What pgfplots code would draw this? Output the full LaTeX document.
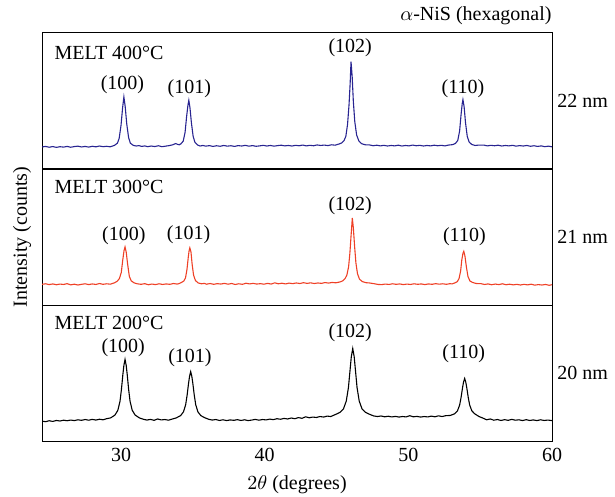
\documentclass[border=0pt]{standalone}
\usepackage{pgfplots}
\pgfplotsset{compat=1.18}
\usepackage{fontspec}
\setmainfont{Liberation Serif}
\definecolor{nisblue}{RGB}{40,36,145}
\definecolor{nisred}{RGB}{238,64,38}
\pgfplotsset{panel/.style={width=255pt,height=68pt,scale only axis,
  xmin=24.5,xmax=60,ymin=0,ymax=100,ytick=\empty,xtick={30,40,50,60},
  major tick length=0pt,axis line style={line width=0.5pt},
  /pgf/number format/assume math mode=true,
  every axis plot/.append style={line width=0.55pt,mark=none}}}
\begin{document}
\begin{tikzpicture}
\begin{axis}[panel,name=top,xticklabels={}]
\addplot[nisblue] coordinates {(24.50,16.2) (24.75,16.6) (25.00,16.0) (25.25,16.5) (25.50,15.9) (25.75,16.4) (26.00,16.1) (26.25,16.6) (26.50,16.0) (26.75,16.5) (27.00,16.8) (27.25,16.2) (27.50,16.6) (27.75,16.1) (28.00,16.7) (28.25,16.3) (28.50,16.9) (28.75,16.4) (29.00,16.7) (29.25,16.3) (29.55,17.4) (29.75,19.0) (29.87,22.5) (30.00,32) (30.11,45) (30.20,53) (30.29,46) (30.40,33) (30.53,23) (30.65,19.0) (30.85,17.4) (31.05,16.9) (31.25,17.2) (31.45,16.6) (31.65,17.0) (31.85,16.4) (32.10,16.9) (32.35,16.5) (32.60,17.1) (32.85,16.4) (33.10,16.8) (33.35,17.2) (33.60,17.8) (33.80,18.7) (33.95,18.1) (34.05,17.8) (34.17,18.5) (34.33,20.5) (34.46,27) (34.56,38) (34.66,47) (34.72,50.5) (34.80,45) (34.90,34) (35.02,24) (35.15,19.5) (35.34,17.6) (35.50,16.9) (35.70,17.3) (35.90,16.8) (36.15,17.2) (36.40,16.6) (36.65,17.1) (36.90,16.7) (37.15,17.3) (37.40,16.8) (37.65,17.1) (37.90,16.6) (38.15,17.2) (38.40,16.9) (38.65,17.4) (38.90,16.8) (39.15,17.2) (39.40,16.7) (39.65,17.0) (39.90,17.4) (40.15,16.9) (40.40,17.3) (40.65,16.8) (40.90,17.2) (41.15,17.5) (41.40,17.0) (41.65,17.3) (41.90,16.9) (42.15,17.4) (42.40,17.1) (42.65,17.6) (42.90,17.0) (43.15,17.4) (43.40,17.1) (43.65,17.7) (43.90,17.3) (44.15,17.6) (44.40,17.2) (44.65,17.8) (44.90,17.5) (45.18,18.4) (45.37,19.2) (45.52,20.8) (45.65,24) (45.77,33) (45.87,47) (45.95,63) (46.01,79) (46.09,68) (46.17,50) (46.27,35) (46.40,25) (46.56,20.5) (46.75,18.6) (47.00,17.8) (47.30,17.7) (47.55,17.1) (47.80,17.5) (48.05,17.0) (48.30,17.4) (48.55,16.9) (48.80,17.3) (49.05,17.0) (49.30,17.5) (49.55,16.9) (49.80,17.3) (50.05,17.0) (50.30,17.6) (50.55,17.1) (50.80,17.4) (51.05,16.9) (51.30,17.3) (51.55,17.0) (51.80,17.5) (52.05,17.1) (52.30,17.4) (52.55,17.0) (52.80,17.6) (53.08,17.9) (53.28,18.8) (53.44,21) (53.57,28) (53.67,40) (53.75,48) (53.80,51) (53.88,46) (53.98,34) (54.10,24) (54.23,19.8) (54.42,18.0) (54.65,17.3) (54.90,17.6) (55.25,17.6) (55.50,17.0) (55.75,17.4) (56.00,17.1) (56.25,17.5) (56.50,16.9) (56.75,17.3) (57.00,17.0) (57.25,17.4) (57.50,16.8) (57.75,17.2) (58.00,16.9) (58.25,17.3) (58.50,16.7) (58.75,17.1) (59.00,16.6) (59.25,17.0) (59.50,16.4) (59.75,16.8) (60.00,16.3)};
\node[anchor=west,inner sep=0] at (axis cs:25.35,85) {MELT 400°C};
\node at (axis cs:30.1,62) {(100)};
\node at (axis cs:34.75,59) {(101)};
\node at (axis cs:45.95,89) {(102)};
\node at (axis cs:53.8,59) {(110)};
\end{axis}
\begin{axis}[panel,name=middle,at={(top.south west)},anchor=north west,xticklabels={}]
\addplot[nisred] coordinates {(24.50,15.2) (24.75,15.6) (25.00,15.0) (25.25,15.5) (25.50,14.9) (25.75,15.4) (26.00,15.1) (26.25,15.7) (26.50,14.8) (26.75,15.3) (27.00,14.7) (27.25,15.2) (27.50,15.6) (27.75,15.0) (28.00,15.5) (28.25,15.1) (28.50,15.8) (28.75,15.2) (29.00,15.6) (29.25,15.3) (29.56,16.4) (29.74,17.5) (29.89,19.5) (30.02,24) (30.12,33) (30.21,40) (30.28,42.7) (30.36,39) (30.46,30) (30.58,21) (30.71,17.8) (30.89,16.4) (31.12,15.6) (31.40,15.2) (31.65,15.7) (31.90,14.9) (32.15,15.4) (32.40,15.0) (32.65,15.6) (32.90,15.1) (33.15,15.5) (33.40,15.2) (33.65,15.8) (33.90,15.4) (34.00,15.6) (34.18,16.4) (34.37,17.6) (34.49,20) (34.59,26) (34.68,35) (34.74,40) (34.79,42) (34.87,39) (34.95,30) (35.05,22) (35.18,18) (35.37,16.2) (35.60,15.6) (35.80,15.9) (35.95,15.3) (36.20,15.8) (36.45,15.2) (36.70,15.7) (36.95,15.4) (37.20,15.9) (37.45,15.3) (37.70,15.8) (37.95,15.1) (38.20,15.6) (38.45,15.2) (38.70,16.0) (38.95,15.5) (39.20,15.9) (39.45,15.4) (39.70,15.7) (39.95,15.3) (40.20,15.9) (40.45,15.4) (40.70,16.3) (40.95,15.6) (41.20,16.0) (41.45,15.5) (41.70,16.1) (41.95,15.7) (42.20,16.2) (42.45,15.8) (42.70,16.4) (42.95,15.9) (43.20,16.3) (43.45,15.8) (43.70,16.2) (43.95,15.9) (44.20,16.5) (44.45,16.1) (44.70,16.6) (44.95,16.3) (45.26,17.0) (45.44,17.8) (45.60,19.5) (45.72,22) (45.84,28) (45.93,38) (46.02,52) (46.10,64) (46.17,57) (46.26,43) (46.35,31) (46.46,23) (46.60,19) (46.80,17.2) (47.06,16.4) (47.30,16.2) (47.65,15.6) (47.90,15.1) (48.15,15.0) (48.40,15.4) (48.65,15.1) (48.90,15.6) (49.15,15.2) (49.40,15.5) (49.65,15.0) (49.90,15.4) (50.15,15.1) (50.40,15.6) (50.65,15.2) (50.90,15.5) (51.15,15.0) (51.40,15.5) (51.65,15.2) (51.90,15.7) (52.15,15.3) (52.40,15.6) (52.65,15.2) (52.90,15.7) (53.05,15.5) (53.22,16.2) (53.41,17.2) (53.53,19.5) (53.64,25) (53.72,33) (53.80,38) (53.86,39.5) (53.94,36) (54.04,28) (54.15,21) (54.29,17.6) (54.47,16.6) (54.72,15.8) (55.05,15.7) (55.30,15.1) (55.55,15.5) (55.80,14.9) (56.05,15.4) (56.30,15.0) (56.55,15.6) (56.80,14.9) (57.05,15.3) (57.30,14.8) (57.55,15.2) (57.80,14.7) (58.05,15.2) (58.30,14.8) (58.55,15.3) (58.80,14.6) (59.05,15.0) (59.30,14.7) (59.55,15.1) (59.80,14.5) (60.00,14.9)};
\node[anchor=west,inner sep=0] at (axis cs:25.35,87) {MELT 300°C};
\node at (axis cs:30.2,51) {(100)};
\node at (axis cs:34.7,52) {(101)};
\node at (axis cs:45.95,73) {(102)};
\node at (axis cs:53.9,50) {(110)};
\end{axis}
\begin{axis}[panel,name=bottom,at={(middle.south west)},anchor=north west,xlabel={$2\theta$ (degrees)}]
\addplot[black] coordinates {(24.50,14.6) (24.75,14.2) (25.00,14.9) (25.25,14.4) (25.50,15.1) (25.75,14.7) (26.00,15.3) (26.25,14.9) (26.50,15.4) (26.75,15.0) (27.00,15.6) (27.25,15.2) (27.50,15.8) (27.75,15.3) (28.00,15.9) (28.25,15.4) (28.50,16.0) (28.75,15.6) (29.00,16.4) (29.28,17.0) (29.58,19.1) (29.78,22.6) (29.93,29.2) (30.03,38) (30.13,49) (30.20,55.6) (30.28,60) (30.36,55.6) (30.43,49) (30.53,38) (30.63,29.2) (30.78,22.6) (30.98,19.1) (31.28,17.0) (31.55,16.0) (31.80,15.4) (32.05,15.9) (32.30,15.2) (32.55,16.2) (32.80,15.5) (33.05,15.8) (33.30,15.3) (33.55,16.1) (33.85,17.0) (34.15,18.7) (34.35,21.5) (34.50,26.7) (34.60,33.6) (34.70,42.3) (34.77,47.5) (34.85,51) (34.93,47.5) (35.00,42.3) (35.10,33.6) (35.20,26.7) (35.35,21.5) (35.55,18.7) (35.85,17.0) (36.10,16.0) (36.35,15.4) (36.60,15.8) (36.85,15.1) (37.10,15.6) (37.35,15.0) (37.60,15.5) (37.85,15.2) (38.10,15.7) (38.35,15.1) (38.60,15.6) (38.85,15.0) (39.10,15.4) (39.35,15.9) (39.60,15.3) (39.85,15.8) (40.10,15.5) (40.35,16.1) (40.60,15.7) (40.85,16.4) (41.10,16.0) (41.35,16.6) (41.60,16.2) (41.85,16.9) (42.10,16.4) (42.35,17.2) (42.60,16.7) (42.85,17.8) (43.10,17.1) (43.35,17.6) (43.60,17.3) (43.85,18.0) (44.10,17.6) (44.35,18.3) (44.60,18.0) (44.93,19.5) (45.23,21) (45.48,23.5) (45.68,29.4) (45.83,39.3) (45.93,50.7) (46.03,62) (46.13,68) (46.23,62) (46.33,50.7) (46.43,39.3) (46.58,29.4) (46.78,23.5) (47.03,21) (47.33,19.5) (47.60,18.4) (47.85,18.0) (48.10,18.4) (48.35,17.8) (48.60,18.2) (48.85,17.7) (49.10,18.1) (49.35,17.6) (49.60,18.0) (49.85,17.7) (50.10,18.6) (50.35,17.8) (50.60,18.1) (50.85,17.6) (51.10,18.0) (51.35,17.7) (51.60,18.3) (51.85,17.8) (52.10,18.5) (52.35,18.0) (52.60,18.6) (52.92,18.8) (53.22,20) (53.42,22.2) (53.57,26.4) (53.67,32) (53.77,39) (53.84,43.2) (53.92,46) (54.00,43.2) (54.07,39) (54.17,32) (54.27,26.4) (54.42,22.2) (54.62,20) (54.92,18.0) (55.20,16.8) (55.45,15.6) (55.70,16.2) (55.95,15.3) (56.20,15.8) (56.45,15.1) (56.70,15.7) (56.95,15.2) (57.20,15.9) (57.45,15.3) (57.70,15.6) (57.95,15.0) (58.20,15.7) (58.45,15.1) (58.70,15.5) (58.95,15.0) (59.20,15.6) (59.45,15.1) (59.70,15.4) (60.00,15.0)};
\node[anchor=west,inner sep=0] at (axis cs:25.35,87) {MELT 200°C};
\node at (axis cs:30.15,68.5) {(100)};
\node at (axis cs:34.8,61) {(101)};
\node at (axis cs:45.95,79.5) {(102)};
\node at (axis cs:53.85,64) {(110)};
\end{axis}
\node[anchor=west,inner sep=0] at ([xshift=2.5pt]top.east) {22 nm};
\node[anchor=west,inner sep=0] at ([xshift=2.5pt]middle.east) {21 nm};
\node[anchor=west,inner sep=0] at ([xshift=2.5pt]bottom.east) {20 nm};
\node[anchor=base east,inner sep=0] at ([yshift=6.5pt]top.north east) {$\alpha$-NiS (hexagonal)};
\node[rotate=90] at ([xshift=-10pt]middle.west) {Intensity (counts)};
\pgfresetboundingbox
\useasboundingbox ([xshift=-21pt,yshift=16.5pt]top.north west) rectangle ([xshift=31.5pt,yshift=-28pt]bottom.south east);
\end{tikzpicture}
\end{document}
